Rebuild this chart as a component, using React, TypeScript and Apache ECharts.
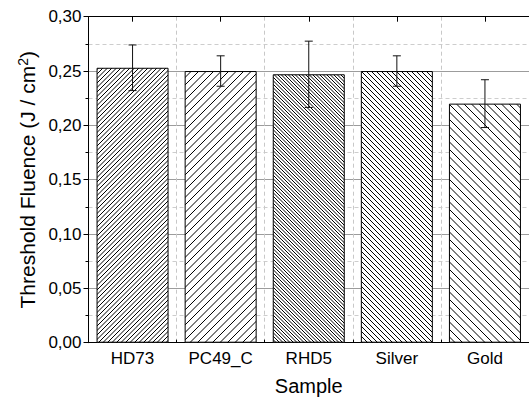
import React, { useEffect, useRef } from "react";
import * as echarts from "echarts";

const categories = ["HD73", "PC49_C", "RHD5", "Silver", "Gold"];
const values = [0.253, 0.25, 0.247, 0.25, 0.22];
const errors = [0.021, 0.014, 0.0305, 0.014, 0.022];
const hatchSpacing = [4.5, 7.5, 3.5, 5, 7.5];
const hatchDir = ["/", "/", "\\", "\\", "\\"];
const yTicks = { min: 0, max: 0.3, interval: 0.05 };

const FONT = "'Liberation Sans', Arial, Helvetica, sans-serif";

function makeHatch(spacing: number, dir: string) {
  const k = Number.isInteger(spacing) ? 1 : 2;
  const size = Math.round(spacing * k);
  const c = document.createElement("canvas");
  c.width = size;
  c.height = size;
  const ctx = c.getContext("2d")!;
  ctx.fillStyle = "#fff";
  ctx.fillRect(0, 0, size, size);
  ctx.strokeStyle = "#000";
  ctx.lineWidth = 1;
  ctx.beginPath();
  for (let j = -1; j <= k; j++) {
    const o = j * spacing;
    if (dir === "/") {
      ctx.moveTo(o - 1, size + 1);
      ctx.lineTo(o + size + 1, -1);
    } else {
      ctx.moveTo(o - 1, -1);
      ctx.lineTo(o + size + 1, size + 1);
    }
  }
  ctx.stroke();
  return {
    image: c,
    repeat: "repeat",
    imageWidth: size,
    imageHeight: size,
  } as any;
}

export default function App() {
  const ref = useRef<HTMLDivElement>(null);
  useEffect(() => {
    if (!ref.current) return;
    const chart = echarts.init(ref.current, undefined, { renderer: "svg" });
    const barData = values.map((v, i) => ({
      value: v,
      itemStyle: {
        color: makeHatch(hatchSpacing[i], hatchDir[i]),
        borderColor: "#000",
        borderWidth: 1,
      },
    }));
    const errData = values.map((v, i) => [i, v - errors[i], v + errors[i]]);
    const option: any = {
      animation: false,
      backgroundColor: "#fff",
      grid: { left: 88.5, top: 16.7, width: 448, height: 326 },
      xAxis: [
        {
          type: "category",
          data: categories,
          position: "bottom",
          axisLine: { show: true, lineStyle: { color: "#000", width: 1 } },
          axisTick: { show: true, inside: true, length: 3, lineStyle: { color: "#000" } },
          axisLabel: { color: "#000", fontSize: 17, fontFamily: FONT, margin: 7 },
          splitLine: { show: true, lineStyle: { color: "#c8c8c8", type: [4, 3], width: 1 } },
          name: "Sample",
          nameLocation: "middle",
          nameGap: 33,
          nameTextStyle: { color: "#000", fontSize: 20, fontFamily: FONT },
        },
        {
          type: "category",
          data: categories,
          position: "bottom",
          axisLine: { show: false },
          axisTick: { show: true, inside: true, alignWithLabel: true, length: 6, lineStyle: { color: "#000" } },
          axisLabel: { show: false },
          splitLine: { show: false },
        },
        {
          type: "category",
          data: categories,
          position: "top",
          axisLine: { show: true, lineStyle: { color: "#000", width: 1 } },
          axisTick: { show: true, inside: true, alignWithLabel: true, length: 5, lineStyle: { color: "#000" } },
          axisLabel: { show: false },
          splitLine: { show: false },
        },
      ],
      yAxis: {
        type: "value",
        min: yTicks.min,
        max: yTicks.max,
        interval: yTicks.interval,
        axisLine: { show: true, lineStyle: { color: "#000", width: 1 } },
        axisTick: { show: true, inside: false, length: 5, lineStyle: { color: "#000" } },
        minorTick: { show: true, splitNumber: 2, length: 3, lineStyle: { color: "#000" } },
        axisLabel: {
          color: "#000",
          fontSize: 17,
          fontFamily: FONT,
          margin: 7,
          formatter: (v: number) => v.toFixed(2).replace(".", ","),
        },
        splitLine: { show: true, lineStyle: { color: "#9c9c9c", width: 1 } },
        minorSplitLine: { show: true, lineStyle: { color: "#cdcdcd", type: [4, 3], width: 1 } },
        name: "Threshold Fluence (J / cm{sup|2})",
        nameLocation: "middle",
        nameGap: 44,
        nameTextStyle: {
          color: "#000",
          fontSize: 21,
          fontFamily: FONT,
          rich: {
            sup: { fontSize: 14, verticalAlign: "top", fontFamily: FONT, color: "#000", padding: [0, 0, 9, 0] },
          },
        },
      },
      series: [
        {
          type: "bar",
          xAxisIndex: 0,
          data: barData,
          barWidth: 72,
          z: 2,
        },
        {
          type: "custom",
          xAxisIndex: 0,
          data: errData,
          encode: { x: 0, y: [1, 2] },
          z: 3,
          renderItem: (params: any, api: any) => {
            const x = api.value(0);
            const lo = api.coord([x, api.value(1)]);
            const hi = api.coord([x, api.value(2)]);
            const cap = 4;
            const style = { stroke: "#111", lineWidth: 1 };
            return {
              type: "group",
              children: [
                { type: "line", shape: { x1: lo[0], y1: lo[1], x2: hi[0], y2: hi[1] }, style },
                { type: "line", shape: { x1: lo[0] - cap, y1: lo[1], x2: lo[0] + cap, y2: lo[1] }, style },
                { type: "line", shape: { x1: hi[0] - cap, y1: hi[1], x2: hi[0] + cap, y2: hi[1] }, style },
              ],
            };
          },
        },
      ],
    };
    chart.setOption(option);
    return () => chart.dispose();
  }, []);
  return (
    <div
      ref={ref}
      style={{ position: "absolute", left: 0, top: 0, width: 529, height: 402 }}
    />
  );
}
